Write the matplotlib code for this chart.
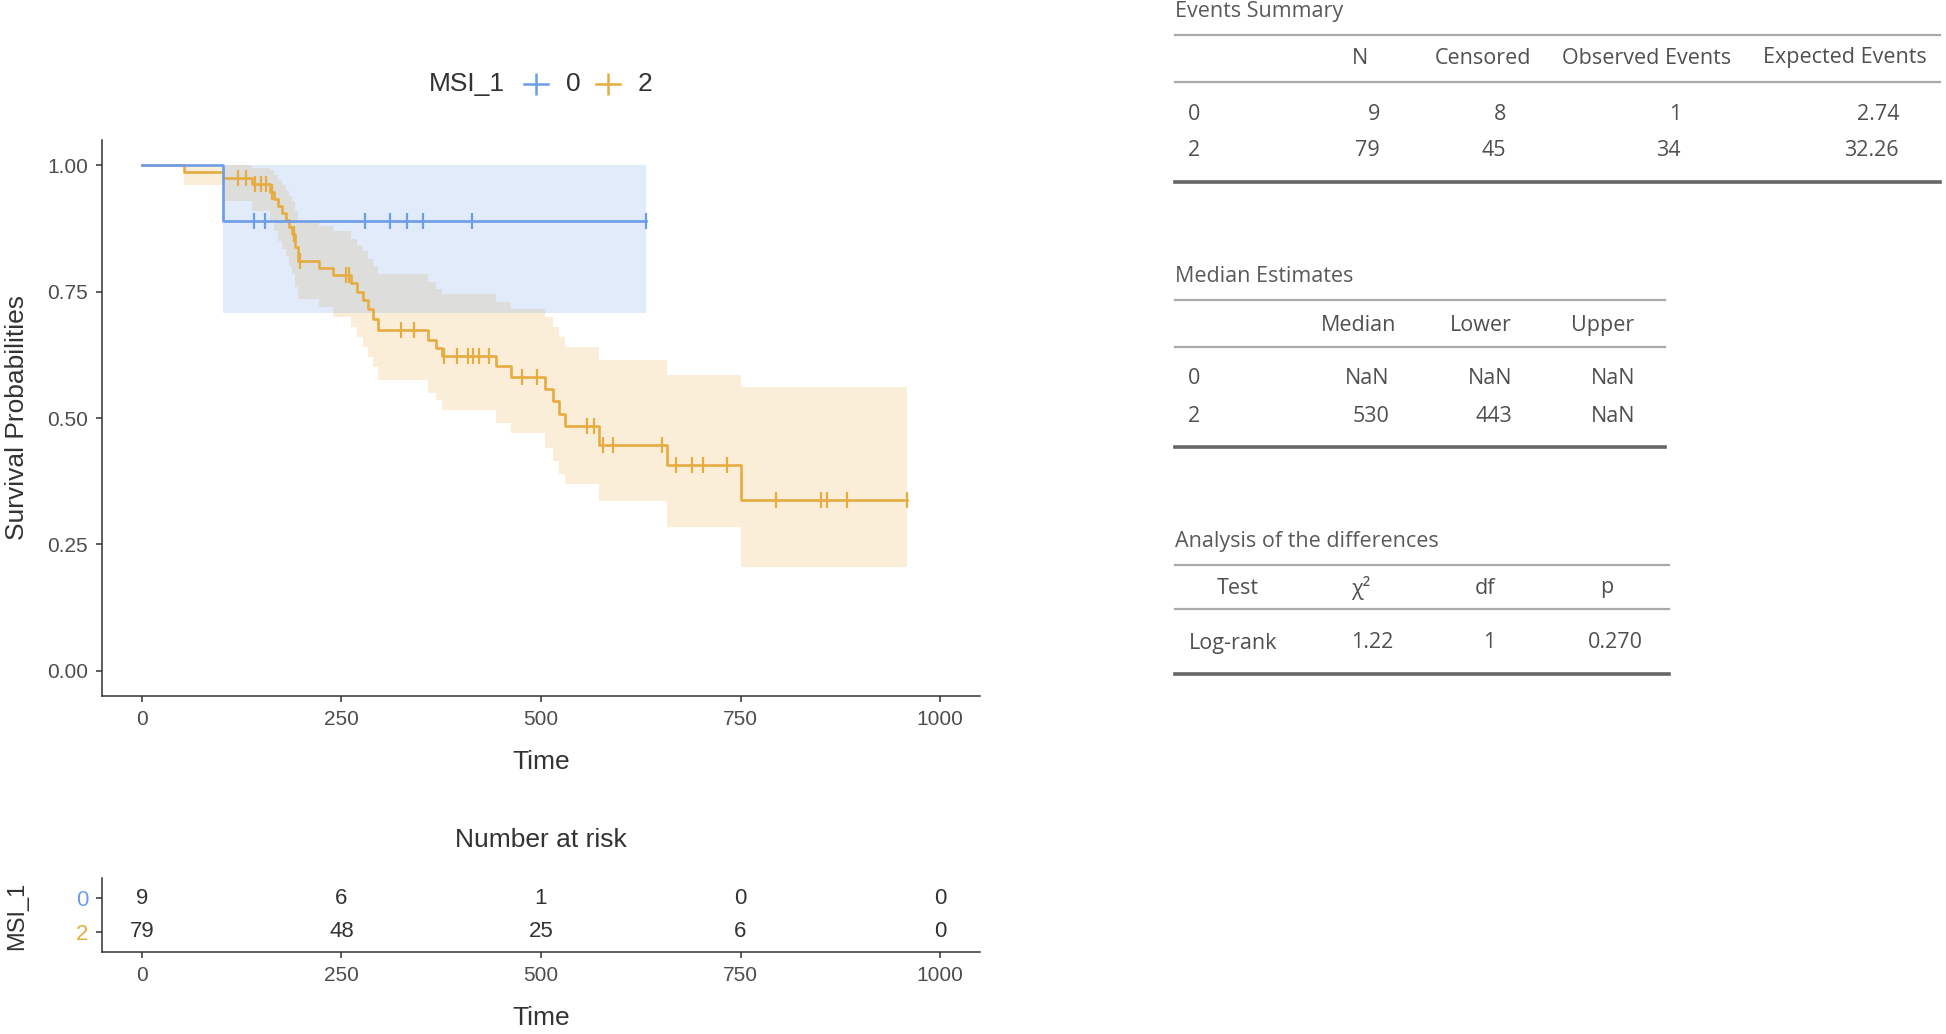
import numpy as np
import matplotlib.pyplot as plt
from matplotlib.lines import Line2D

# ---- survival curves ----
# group 0
t0 = [0, 102]
s0 = [1.0, 0.889]
lo0 = [1.0, 0.708]
hi0 = [1.0, 1.0]
end0 = 631
cens0 = [140, 154, 279, 311, 332, 352, 413, 631]

# group 2
t2 = [0, 53, 102, 138, 160, 166, 171, 176, 180, 184, 188, 192, 196, 222, 240,
      262, 270, 277, 283, 289, 296, 359, 368, 376, 444, 462, 505, 515, 522,
      530, 573, 658, 750]
s2 = [1.000, 0.987, 0.975, 0.962, 0.948, 0.934, 0.920, 0.906, 0.892, 0.878,
      0.864, 0.838, 0.811, 0.797, 0.783, 0.767, 0.750, 0.733, 0.716, 0.695,
      0.674, 0.655, 0.639, 0.622, 0.602, 0.582, 0.558, 0.533, 0.508, 0.484,
      0.447, 0.407, 0.338]
lo2 = [1.000, 0.960, 0.930, 0.910, 0.890, 0.870, 0.850, 0.835, 0.820, 0.800,
       0.785, 0.760, 0.735, 0.720, 0.700, 0.680, 0.660, 0.640, 0.620, 0.600,
       0.575, 0.550, 0.535, 0.515, 0.490, 0.470, 0.440, 0.415, 0.390, 0.370,
       0.335, 0.285, 0.206]
hi2 = [1.000, 1.000, 1.000, 0.995, 0.990, 0.980, 0.970, 0.960, 0.950, 0.940,
       0.930, 0.910, 0.890, 0.880, 0.870, 0.855, 0.840, 0.830, 0.815, 0.800,
       0.785, 0.770, 0.755, 0.745, 0.730, 0.715, 0.700, 0.680, 0.660, 0.640,
       0.614, 0.585, 0.561]
end2 = 959
cens2 = [121, 130, 142, 149, 155, 163, 191, 198, 256, 260, 325, 341, 379, 395,
         408, 415, 422, 435, 476, 495, 558, 566, 578, 590, 652, 669, 689, 703,
         733, 794, 851, 858, 883, 959]

risk_times = [0, 250, 500, 750, 1000]
risk0 = [9, 6, 1, 0, 0]
risk2 = [79, 48, 25, 6, 0]

# ---- tables ----
ev_cols = ['N', 'Censored', 'Observed Events', 'Expected Events']
ev_groups = ['0', '2']
ev_n = [9, 79]
ev_cens = [8, 45]
ev_obs = [1, 34]
ev_exp = [2.74, 32.26]

med_cols = ['Median', 'Lower', 'Upper']
med_median = ['NaN', '530']
med_lower = ['NaN', '443']
med_upper = ['NaN', 'NaN']

test_cols = ['Test', 'χ²', 'df', 'p']
test_row = ['Log-rank', '1.22', '1', '0.270']

blue = '#6B9DE8'
orange = '#E6AC40'
grey_txt = '#4D4D4D'

W, H = 1946, 1034
fig = plt.figure(figsize=(W / 100, H / 100), dpi=100)
plt.rcParams['font.family'] = ['Liberation Sans', 'DejaVu Sans']


def fx(x):
    return x / W


def fy(y):
    return 1 - y / H


def step_draw(ax, t, s, lo, hi, end, cens, col):
    x = list(t) + [end]
    ax.fill_between(x, list(lo) + [lo[-1]], list(hi) + [hi[-1]], step='post',
                    color=col, alpha=0.2, lw=0)
    ax.step(x, list(s) + [s[-1]], where='post', color=col, lw=1.9)
    idx = np.searchsorted(t, cens, side='right') - 1
    ax.plot(cens, np.array(s)[idx], ls='none', marker='|', ms=11, mew=1.6,
            color=col)


# ---- KM plot ----
ax = fig.add_axes([fx(102), fy(696), (980 - 102) / W, (696 - 140) / H])
step_draw(ax, t2, s2, lo2, hi2, end2, cens2, orange)
step_draw(ax, t0, s0, lo0, hi0, end0, cens0, blue)
ax.set_xlim(-50, 1050)
ax.set_ylim(-0.05, 1.05)
ax.set_xticks(risk_times)
ax.set_yticks([0, 0.25, 0.5, 0.75, 1.0])
ax.set_yticklabels(['0.00', '0.25', '0.50', '0.75', '1.00'])
for sp in ['top', 'right']:
    ax.spines[sp].set_visible(False)
for sp in ['left', 'bottom']:
    ax.spines[sp].set_color('#333333')
    ax.spines[sp].set_linewidth(1.1)
ax.tick_params(labelsize=15, colors='#333333', labelcolor=grey_txt, length=4,
               width=1.1, pad=6)
fig.text(fx(541), fy(762), 'Time', ha='center', va='center', fontsize=19,
         color='#333333')
fig.text(fx(17), fy(418), 'Survival Probabilities', rotation=90, ha='center',
         va='center', fontsize=19, color='#333333')

# legend
fig.text(fx(467), fy(84), 'MSI_1', ha='center', va='center', fontsize=19,
         color='#333333')
for xc, col, lab in [(536, blue, '0'), (608, orange, '2')]:
    fig.add_artist(Line2D([fx(xc - 12), fx(xc + 12)], [fy(84), fy(84)],
                          color=col, lw=1.8))
    fig.add_artist(Line2D([fx(xc)], [fy(84)], marker='|', ms=16, mew=1.8,
                          color=col))
    fig.text(fx(xc + 37), fy(84), lab, ha='center', va='center', fontsize=19,
             color='#333333')

# ---- risk table ----
ax2 = fig.add_axes([fx(102), fy(952), (980 - 102) / W, (952 - 878) / H])
ax2.set_xlim(-50, 1050)
ax2.set_ylim(2.6, 0.4)
for tt, a, b in zip(risk_times, risk0, risk2):
    ax2.text(tt, 1, str(a), ha='center', va='center', fontsize=16,
             color='#333333')
    ax2.text(tt, 2, str(b), ha='center', va='center', fontsize=16,
             color='#333333')
ax2.set_xticks(risk_times)
ax2.set_yticks([1, 2])
ax2.set_yticklabels(ev_groups)
for sp in ['top', 'right']:
    ax2.spines[sp].set_visible(False)
for sp in ['left', 'bottom']:
    ax2.spines[sp].set_color('#333333')
    ax2.spines[sp].set_linewidth(1.1)
ax2.tick_params(labelsize=15, colors='#333333', labelcolor=grey_txt, length=4,
                width=1.1, pad=6)
ax2.tick_params(axis='y', labelsize=16)
for lab, col in zip(ax2.get_yticklabels(), [blue, orange]):
    lab.set_color(col)
fig.text(fx(541), fy(840), 'Number at risk', ha='center', va='center',
         fontsize=19, color='#333333')
fig.text(fx(541), fy(1018), 'Time', ha='center', va='center', fontsize=19,
         color='#333333')
fig.text(fx(17), fy(916), 'MSI_1', rotation=90, ha='center', va='center',
         fontsize=17, color='#333333')

# ---- right-hand tables ----
tf = ['Open Sans', 'DejaVu Sans']
tc = '#505050'
fs = 15.5


def hline(y, x0, x1, lw, col):
    fig.add_artist(Line2D([fx(x0), fx(x1)], [fy(y), fy(y)], lw=lw, color=col))


def txt(x, y, s, ha='center', col=tc):
    fig.text(fx(x), fy(y), s, ha=ha, va='center', fontsize=fs, color=col,
             family=tf)


# Events Summary
txt(1175, 12, 'Events Summary', ha='left', col='#5a5a5a')
hline(35, 1175, 1940, 1.6, '#aaaaaa')
for xc, c in zip([1360, 1483, 1647, 1845], ev_cols):
    txt(xc, 58, c)
hline(82, 1175, 1940, 1.6, '#aaaaaa')
for yy, g, n, ce, ob, ex in zip([114, 150], ev_groups, ev_n, ev_cens, ev_obs,
                               ev_exp):
    txt(1188, yy, g, ha='left')
    txt(1380, yy, str(n), ha='right')
    txt(1506, yy, str(ce), ha='right')
    txt(1681, yy, str(ob), ha='right')
    txt(1899, yy, '%.2f' % ex, ha='right')
hline(182, 1175, 1940, 2.6, '#666666')

# Median Estimates
txt(1175, 277, 'Median Estimates', ha='left', col='#5a5a5a')
hline(300, 1175, 1665, 1.6, '#aaaaaa')
for xc, c in zip([1359, 1481, 1603], med_cols):
    txt(xc, 325, c)
hline(347, 1175, 1665, 1.6, '#aaaaaa')
for yy, g, m, lo, up in zip([378, 416], ev_groups, med_median, med_lower,
                            med_upper):
    txt(1188, yy, g, ha='left')
    txt(1389, yy, m, ha='right')
    txt(1512, yy, lo, ha='right')
    txt(1635, yy, up, ha='right')
hline(447, 1175, 1665, 2.6, '#666666')

# Analysis of the differences
txt(1175, 542, 'Analysis of the differences', ha='left', col='#5a5a5a')
hline(565, 1175, 1669, 1.6, '#aaaaaa')
for xc, c in zip([1238, 1361, 1485, 1607], test_cols):
    txt(xc, 588, c)
hline(609, 1175, 1669, 1.6, '#aaaaaa')
txt(1189, 643, test_row[0], ha='left')
for xc, v in zip([1372, 1489, 1615], test_row[1:]):
    txt(xc, 643, v)
hline(674, 1175, 1669, 2.6, '#666666')

fig.savefig('out.png', dpi=100)
